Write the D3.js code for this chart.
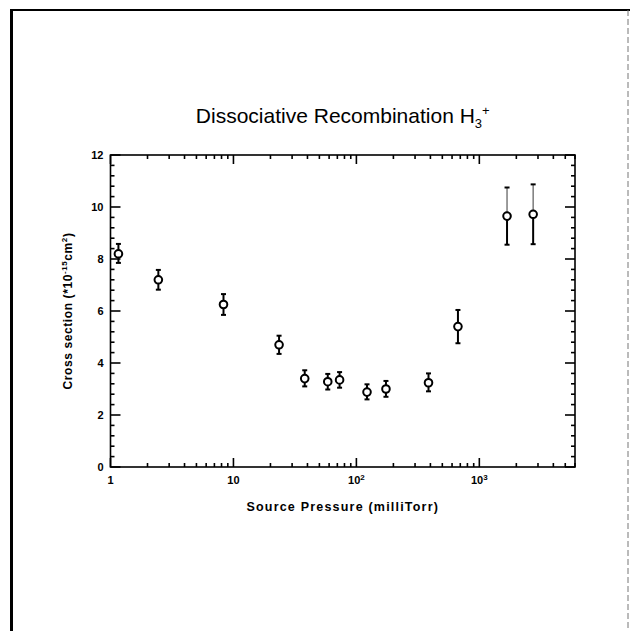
<!DOCTYPE html>
<html><head><meta charset="utf-8">
<script src="https://cdn.jsdelivr.net/npm/d3@7"></script>
<style>body{margin:0;background:#fff}svg{display:block}text{font-family:"Liberation Sans",Arial,sans-serif;fill:#000}</style>
</head><body>
<script>
const pressure = [1.16, 2.45, 8.3, 23.5, 38, 58.5, 73, 122, 174, 386, 670, 1680, 2740];
const crossSection = [8.2, 7.2, 6.25, 4.7, 3.4, 3.28, 3.35, 2.88, 3.0, 3.24, 5.4, 9.65, 9.72];
const errLow = [0.35, 0.38, 0.4, 0.35, 0.3, 0.3, 0.3, 0.28, 0.3, 0.33, 0.64, 1.1, 1.15];
const errHigh = [0.38, 0.38, 0.4, 0.35, 0.32, 0.3, 0.3, 0.3, 0.31, 0.36, 0.64, 1.1, 1.15];
const yTicks = [0, 2, 4, 6, 8, 10, 12];
const xTicks = [1, 10, 100, 1000];

const W = 630, H = 631;
const svg = d3.select("body").append("svg").attr("width", W).attr("height", H);
svg.append("rect").attr("width", W).attr("height", H).attr("fill", "#fff");

// page frame
svg.append("line").attr("x1",11.5).attr("x2",11.5).attr("y1",9).attr("y2",H).attr("stroke","#000").attr("stroke-width",3);
svg.append("line").attr("x1",10).attr("x2",W).attr("y1",10).attr("y2",10).attr("stroke","#000").attr("stroke-width",2);
svg.append("line").attr("x1",628).attr("x2",628).attr("y1",10).attr("y2",H).attr("stroke","#777").attr("stroke-width",1).attr("stroke-dasharray","6,3");

const L = 110.5, R = 575, T = 155, B = 467;
const x = d3.scaleLog().domain([1, 6000]).range([L, R]);
const y = d3.scaleLinear().domain([0, 12]).range([B, T]);

const g = svg.append("g");
g.append("rect").attr("x",L).attr("y",T).attr("width",R-L).attr("height",B-T)
  .attr("fill","none").attr("stroke","#000").attr("stroke-width",1.6);

const xMinor = [];
for (let d = 1; d <= 1000; d *= 10) for (let k = 1; k <= 9; k++) { const v = d*k; if (v <= 6000) xMinor.push(v); }
xMinor.forEach(v => {
  const major = xTicks.includes(v);
  const len = major ? 9 : 4;
  g.append("line").attr("x1",x(v)).attr("x2",x(v)).attr("y1",B).attr("y2",B-len).attr("stroke","#000").attr("stroke-width",1.6);
  g.append("line").attr("x1",x(v)).attr("x2",x(v)).attr("y1",T).attr("y2",T+len).attr("stroke","#000").attr("stroke-width",1.6);
});
d3.range(0, 12.01, 0.4).forEach(v => {
  const major = Math.abs(v/2 - Math.round(v/2)) < 1e-6;
  const len = major ? 10 : 4;
  g.append("line").attr("x1",L).attr("x2",L+len).attr("y1",y(v)).attr("y2",y(v)).attr("stroke","#000").attr("stroke-width",1.6);
  g.append("line").attr("x1",R).attr("x2",R-len).attr("y1",y(v)).attr("y2",y(v)).attr("stroke","#000").attr("stroke-width",1.6);
});

yTicks.forEach(v => {
  g.append("text").attr("x", L-7).attr("y", y(v)+4).attr("text-anchor","end")
   .attr("font-size",11).attr("font-weight","bold").text(v);
});
xTicks.forEach(v => {
  const t = g.append("text").attr("x", x(v)).attr("y", B+17).attr("text-anchor","middle")
   .attr("font-size",11).attr("font-weight","bold");
  if (v === 1) t.text("1");
  else if (v === 10) t.text("10");
  else {
    t.append("tspan").text("10");
    t.append("tspan").attr("dy",-4).attr("font-size",8).text(Math.round(Math.log10(v)));
  }
});

const title = svg.append("text").attr("x", (L+R)/2).attr("y", 123).attr("text-anchor","middle").attr("font-size",21);
title.append("tspan").text("Dissociative Recombination H");
title.append("tspan").attr("dy",5).attr("font-size",13).text("3");
title.append("tspan").attr("dy",-13).attr("font-size",13).text("+");

svg.append("text").attr("x",(L+R)/2).attr("y",B+44).attr("text-anchor","middle")
  .attr("font-size",12.5).attr("font-weight","bold").attr("letter-spacing",1.2).text("Source Pressure (milliTorr)");

const yt = svg.append("text").attr("transform",`translate(72,${(T+B)/2}) rotate(-90)`).attr("text-anchor","middle")
  .attr("font-size",12).attr("font-weight","bold").attr("letter-spacing",0.6);
yt.append("tspan").text("Cross section (*10");
yt.append("tspan").attr("dy",-5).attr("font-size",8).text("-15");
yt.append("tspan").attr("dy",5).text("cm");
yt.append("tspan").attr("dy",-5).attr("font-size",8).text("2");
yt.append("tspan").attr("dy",5).text(")");

const pts = pressure.map((p,i) => ({p, v: crossSection[i], lo: crossSection[i]-errLow[i], hi: crossSection[i]+errHigh[i], big: errHigh[i] > 1}));
const pg = g.append("g");
pts.forEach(d => {
  const cx = x(d.p);
  // upper bar (lighter on the large error bars, as in the scan)
  pg.append("line").attr("x1",cx).attr("x2",cx).attr("y1",y(d.hi)).attr("y2",y(d.v))
    .attr("stroke", d.big ? "#666" : "#000").attr("stroke-width", d.big ? 1.3 : 2);
  pg.append("line").attr("x1",cx).attr("x2",cx).attr("y1",y(d.v)).attr("y2",y(d.lo)).attr("stroke","#000").attr("stroke-width",2);
  [d.hi, d.lo].forEach(e => {
    pg.append("line").attr("x1",cx-2.5).attr("x2",cx+2.5).attr("y1",y(e)).attr("y2",y(e)).attr("stroke","#000").attr("stroke-width",2);
  });
  pg.append("circle").attr("cx",cx).attr("cy",y(d.v)).attr("r",3.8).attr("fill","#fff").attr("stroke","#000").attr("stroke-width",2);
});
</script>
</body></html>
